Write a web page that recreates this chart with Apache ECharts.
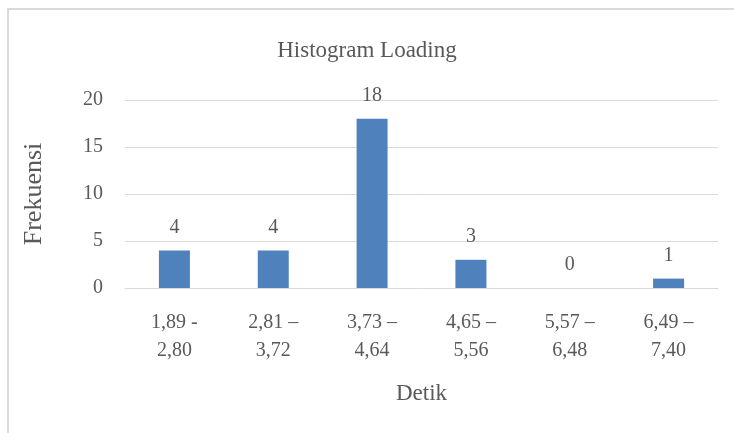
<!DOCTYPE html>
<html>
<head>
<meta charset="utf-8">
<script src="https://cdn.jsdelivr.net/npm/echarts@6/dist/echarts.min.js"></script>
<style>
  html, body { margin: 0; padding: 0; background: #fff; }
  #chart { width: 734px; height: 433px; }
</style>
</head>
<body>
<div id="chart"></div>
<script>
// Frequency of page loading times grouped in second intervals
const categories = ['1,89 -\n2,80', '2,81 –\n3,72', '3,73 –\n4,64', '4,65 –\n5,56', '5,57 –\n6,48', '6,49 –\n7,40'];
const frequencies = [4, 4, 18, 3, 0, 1];
const yTicks = { min: 0, max: 20, interval: 5 };

const textColor = '#595959';
const fontFamily = '"Liberation Serif", "Times New Roman", serif';

const chart = echarts.init(document.getElementById('chart'));
chart.setOption({
  animation: false,
  textStyle: { fontFamily: fontFamily },
  graphic: [{
    type: 'rect',
    shape: { x: 8, y: 9, width: 760, height: 460 },
    style: { fill: 'none', stroke: '#d9d9d9', lineWidth: 2 },
    silent: true
  }],
  title: {
    text: 'Histogram Loading',
    left: 'center',
    top: 34,
    textStyle: { fontFamily: fontFamily, fontSize: 23, fontWeight: 'normal', color: textColor }
  },
  grid: { left: 125, right: 16, top: 100, bottom: 145 },
  xAxis: {
    type: 'category',
    data: categories,
    name: 'Detik',
    nameLocation: 'middle',
    nameGap: 94,
    nameTextStyle: { fontFamily: fontFamily, fontSize: 23, color: textColor },
    axisLine: { lineStyle: { color: '#d9d9d9', width: 1 } },
    axisTick: { show: false },
    axisLabel: { margin: 21, fontFamily: fontFamily, fontSize: 20, lineHeight: 28, color: textColor, interval: 0 }
  },
  yAxis: {
    type: 'value',
    min: yTicks.min,
    max: yTicks.max,
    interval: yTicks.interval,
    name: 'Frekuensi',
    nameLocation: 'middle',
    nameGap: 78,
    nameTextStyle: { fontFamily: fontFamily, fontSize: 26, color: textColor },
    axisLine: { show: false },
    axisTick: { show: false },
    axisLabel: { margin: 22, fontFamily: fontFamily, fontSize: 20, color: textColor },
    splitLine: { lineStyle: { color: '#d9d9d9', width: 1 } }
  },
  series: [{
    type: 'bar',
    data: frequencies,
    barWidth: 31,
    itemStyle: { color: '#4f81bd' },
    label: {
      show: true,
      position: 'top',
      distance: 13,
      fontFamily: fontFamily,
      fontSize: 20,
      color: textColor
    }
  }]
});
</script>
</body>
</html>
